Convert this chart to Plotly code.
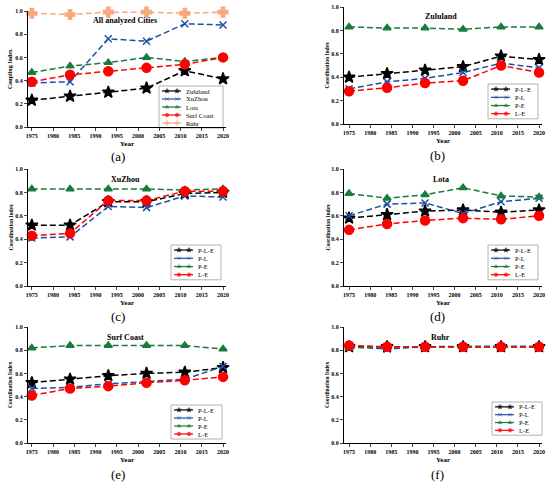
import plotly.graph_objects as go
from plotly.subplots import make_subplots

# sample years
years = [1975, 1984, 1993, 2002, 2011, 2020]

# (a) coupling index of all cities
zululand = [0.23, 0.265, 0.30, 0.335, 0.485, 0.415]
xuzhou = [0.38, 0.39, 0.76, 0.74, 0.89, 0.88]
lota = [0.47, 0.525, 0.555, 0.60, 0.565, 0.60]
surf_coast = [0.39, 0.45, 0.48, 0.51, 0.54, 0.60]
ruhr = [0.98, 0.97, 0.99, 0.99, 0.98, 0.99]

# (b)-(f) coordination index per city: P-L-E, P-L, P-E, L-E
zul_ple = [0.40, 0.43, 0.46, 0.49, 0.58, 0.55]
zul_pl = [0.30, 0.36, 0.39, 0.44, 0.52, 0.48]
zul_pe = [0.83, 0.82, 0.82, 0.81, 0.83, 0.83]
zul_le = [0.28, 0.31, 0.35, 0.37, 0.50, 0.44]

xuz_ple = [0.52, 0.52, 0.72, 0.72, 0.79, 0.80]
xuz_pl = [0.41, 0.42, 0.68, 0.67, 0.77, 0.76]
xuz_pe = [0.83, 0.83, 0.83, 0.83, 0.82, 0.83]
xuz_le = [0.43, 0.45, 0.73, 0.73, 0.81, 0.81]

lot_ple = [0.58, 0.61, 0.64, 0.65, 0.63, 0.65]
lot_pl = [0.60, 0.70, 0.71, 0.62, 0.72, 0.75]
lot_pe = [0.79, 0.75, 0.78, 0.84, 0.77, 0.76]
lot_le = [0.48, 0.53, 0.56, 0.58, 0.57, 0.60]

srf_ple = [0.52, 0.55, 0.58, 0.60, 0.61, 0.65]
srf_pl = [0.47, 0.48, 0.51, 0.53, 0.55, 0.66]
srf_pe = [0.82, 0.84, 0.84, 0.84, 0.84, 0.81]
srf_le = [0.41, 0.47, 0.49, 0.52, 0.54, 0.57]

ruh_ple = [0.83, 0.83, 0.83, 0.83, 0.83, 0.83]
ruh_pl = [0.83, 0.81, 0.83, 0.83, 0.83, 0.83]
ruh_pe = [0.82, 0.83, 0.83, 0.835, 0.835, 0.835]
ruh_le = [0.84, 0.83, 0.83, 0.83, 0.83, 0.83]

x_ticks = [1975, 1980, 1985, 1990, 1995, 2000, 2005, 2010, 2015, 2020]
y_ticks = [0.0, 0.2, 0.4, 0.6, 0.8, 1.0]

BLACK = "#000000"
BLUE = "#1f4fa3"
GREEN = "#1b7a3d"
RED = "#ff0000"
ORANGE = "#f9a97e"
SERIF = "Liberation Serif"

styles = {
    "black": (BLACK, "star", 9),
    "blue": (BLUE, "x-thin-open", 7),
    "green": (GREEN, "triangle-up", 7),
    "red": (RED, "circle", 9),
    "orange": (ORANGE, "cross", 8),
}

panels = [
    # (row, col, title, ytitle, series)
    (1, 1, "All analyzed Cities", "Coupling Index",
     [("Zululand", zululand, "black"), ("XuZhou", xuzhou, "blue"),
      ("Lota", lota, "green"), ("Surf Coast", surf_coast, "red"),
      ("Ruhr", ruhr, "orange")]),
    (1, 2, "Zululand", "Coordination Index",
     [("P-L-E", zul_ple, "black"), ("P-L", zul_pl, "blue"),
      ("P-E", zul_pe, "green"), ("L-E", zul_le, "red")]),
    (2, 1, "XuZhou", "Coordination Index",
     [("P-L-E", xuz_ple, "black"), ("P-L", xuz_pl, "blue"),
      ("P-E", xuz_pe, "green"), ("L-E", xuz_le, "red")]),
    (2, 2, "Lota", "Coordination Index",
     [("P-L-E", lot_ple, "black"), ("P-L", lot_pl, "blue"),
      ("P-E", lot_pe, "green"), ("L-E", lot_le, "red")]),
    (3, 1, "Surf Coast", "Coordination Index",
     [("P-L-E", srf_ple, "black"), ("P-L", srf_pl, "blue"),
      ("P-E", srf_pe, "green"), ("L-E", srf_le, "red")]),
    (3, 2, "Ruhr", "Coordination Index",
     [("P-L-E", ruh_ple, "black"), ("P-L", ruh_pl, "blue"),
      ("P-E", ruh_pe, "green"), ("L-E", ruh_le, "red")]),
]

W, H = 550, 485
x_dom = {1: (28, 226), 2: (344, 542)}
x_rng = {1: (1974.1, 2020.7), 2: (1973.8, 2020.7)}
y_dom = {(1, 1): (11, 127), (1, 2): (7, 124), (2, 1): (169, 286),
         (2, 2): (169, 286), (3, 1): (327, 443), (3, 2): (327, 443)}
ytitle_x = {1: 10, 2: 327}
# legend boxes: left, top, width, row height (pixels)
legend_box = [(159, 86, 64, 8), (488, 84, 50, 8.2), (171, 245, 50, 8.2),
              (488, 245, 50, 8.2), (171, 405, 51, 8), (492, 402, 50, 7.8)]
labels = [("(a)", 118, 157), ("(b)", 437, 156), ("(c)", 118, 316),
          ("(d)", 437, 316), ("(e)", 118, 474), ("(f)", 437, 474)]


def note(text, px, py, size, **kw):
    # text placed at a pixel position of the page
    return dict(text=text, x=px / W, y=1 - py / H, xref="paper", yref="paper",
                xanchor=kw.pop("xanchor", "center"), yanchor="middle",
                showarrow=False,
                font=dict(family=SERIF, size=size, color="black"), **kw)


fig = make_subplots(rows=3, cols=2)

annotations = []
shapes = []
layout_extra = {}
for i, (row, col, title, ytitle, series) in enumerate(panels):
    for name, vals, key in series:
        color, symbol, size = styles[key]
        fig.add_trace(go.Scatter(
            x=years, y=vals, name=name, mode="lines+markers",
            line=dict(color=color, width=1.5, dash="6px,3px"),
            marker=dict(color=color, symbol=symbol, size=size,
                        line=dict(color=color, width=1.5)),
            showlegend=False, cliponaxis=False,
        ), row=row, col=col)

    n = "" if i == 0 else str(i + 1)
    x0, x1 = x_dom[col]
    t, b = y_dom[(row, col)]
    layout_extra["xaxis" + n] = dict(
        domain=[x0 / W, x1 / W], range=list(x_rng[col]), automargin=False,
        tickvals=x_ticks, ticks="outside", ticklen=3, tickwidth=1,
        showline=True, linecolor="black", linewidth=1, showgrid=False,
        zeroline=False,
        tickfont=dict(family=SERIF, size=6, color="black", weight="bold"),
    )
    layout_extra["yaxis" + n] = dict(
        domain=[1 - b / H, 1 - t / H], range=[0, 1], automargin=False,
        tickvals=y_ticks, ticktext=[f"{v:.1f}" for v in y_ticks],
        ticks="outside", ticklen=3, tickwidth=1,
        showline=True, linecolor="black", linewidth=1, showgrid=False,
        zeroline=False,
        tickfont=dict(family=SERIF, size=6, color="black", weight="bold"),
    )
    # panel title, axis titles
    annotations.append(note(f"<b>{title}</b>", (x0 + x1) / 2 - 2, t + 10, 8))
    annotations.append(note("<b>Year</b>", (x0 + x1) / 2, b + 16.5, 7))
    annotations.append(note(f"<b>{ytitle}</b>", ytitle_x[col], (t + b) / 2,
                            6 if i == 0 else 5.5, textangle=-90))

    # compact legend drawn on a pixel-space overlay axis
    lx, ly, lw, rh = legend_box[i]
    shapes.append(dict(
        type="rect", xref="paper", yref="paper",
        x0=lx / W, x1=(lx + lw) / W,
        y0=1 - (ly + rh * len(series) + 2) / H, y1=1 - ly / H,
        line=dict(color="#a0a0a0", width=0.8), fillcolor="white", layer="below",
    ))
    for k, (name, vals, key) in enumerate(series):
        color, symbol, size = styles[key]
        yc = ly + 1 + rh * (k + 0.5)
        fig.add_trace(go.Scatter(
            x=[lx + 3, lx + 8, lx + 18, lx + 22], y=[yc] * 4,
            mode="lines+markers", xaxis="x7", yaxis="y7",
            line=dict(color=color, width=1.2),
            marker=dict(color=color, symbol=symbol, size=[0, 3.5, 3.5, 0],
                        line=dict(color=color, width=0.8)),
            showlegend=False, hoverinfo="skip",
        ))
        annotations.append(note(name, lx + 25, yc, 6.5, xanchor="left"))

for text, px, py in labels:
    annotations.append(note(text, px, py, 13))

layout_extra["xaxis7"] = dict(domain=[0, 1], range=[0, W], visible=False,
                              fixedrange=True, automargin=False)
layout_extra["yaxis7"] = dict(domain=[0, 1], range=[H, 0], visible=False,
                              fixedrange=True, automargin=False)

fig.update_layout(
    width=W, height=H,
    margin=dict(l=0, r=0, t=0, b=0, autoexpand=False),
    plot_bgcolor="rgba(0,0,0,0)", paper_bgcolor="white",
    annotations=annotations, shapes=shapes,
    **layout_extra,
)

# drop the default page margin so the figure fills the window exactly
fig.write_html(
    "out.html",
    config={"displayModeBar": False},
    post_script="document.body.style.margin='0px';"
                "document.body.style.overflow='hidden';",
)
